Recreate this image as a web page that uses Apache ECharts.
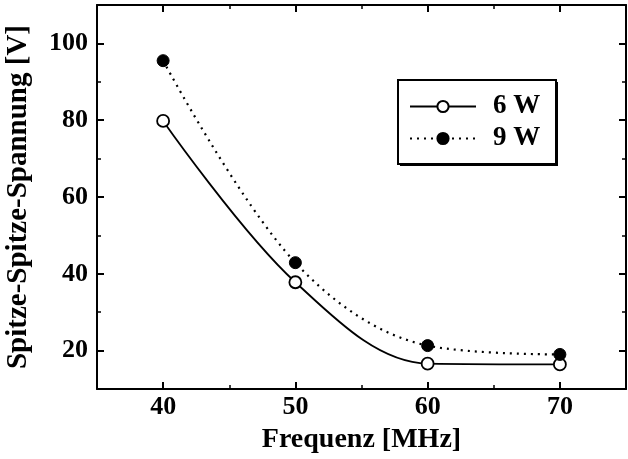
<!DOCTYPE html>
<html>
<head>
<meta charset="utf-8">
<script src="https://cdn.jsdelivr.net/npm/echarts@6/dist/echarts.min.js"></script>
<style>
html,body{margin:0;padding:0;background:#fff;}
#chart{width:628px;height:459px;}
</style>
</head>
<body>
<div id="chart"></div>
<script>
// Frequenz [MHz]
var frequenz = [40, 50, 60, 70];
// Spitze-Spitze-Spannung [V]
var spannung6W = [79.8, 37.8, 16.6, 16.4];
var spannung9W = [95.5, 42.9, 21.3, 19.0];
var seriesNames = ['6 W', '9 W'];
var xTicks = [40, 50, 60, 70];
var yTicks = [20, 40, 60, 80, 100];

function pairs(xs, ys) {
	var out = [];
	for (var i = 0; i < xs.length; i++) {
		out.push([xs[i], ys[i]]);
	}
	return out;
}

var fontFam = '"Liberation Serif", "DejaVu Serif", serif';
var labelStyle = { fontFamily: fontFam, fontWeight: 'bold', fontSize: 26, color: '#000' };

// major axis with custom ticks + labels
function majorAxis(min, max, pos, ticks, showLabel) {
	return {
		type: 'value', min: min, max: max, position: pos,
		axisLine: { show: true, lineStyle: { color: '#000', width: 2 } },
		axisTick: { show: true, inside: true, length: 7, customValues: ticks, lineStyle: { color: '#000', width: 2 } },
		axisLabel: Object.assign({ show: showLabel, customValues: ticks, margin: 9 }, labelStyle),
		splitLine: { show: false }
	};
}
// overlay axis, only short ticks
function minorAxis(min, max, pos, step) {
	return {
		type: 'value', min: min, max: max, interval: step, position: pos,
		axisLine: { show: false },
		axisTick: { show: true, inside: true, length: 4, lineStyle: { color: '#000', width: 1.5 } },
		axisLabel: { show: false },
		splitLine: { show: false }
	};
}

var xMain = majorAxis(35, 75, 'bottom', xTicks, true);
xMain.name = 'Frequenz [MHz]';
xMain.nameLocation = 'middle';
xMain.nameGap = 37;
xMain.nameTextStyle = Object.assign({}, labelStyle, { fontSize: 28 });
xMain.axisLabel.margin = 5;

var yMain = majorAxis(10, 110, 'left', yTicks, true);
yMain.name = 'Spitze-Spitze-Spannung [V]';
yMain.nameLocation = 'middle';
yMain.nameGap = 64;
yMain.nameTextStyle = Object.assign({}, labelStyle, { fontSize: 29 });

var myChart = echarts.init(document.getElementById('chart'));
var option = {
	backgroundColor: '#fff',
	animation: false,
	grid: { left: 97, right: 2, top: 5, bottom: 70, containLabel: false, outerBoundsMode: 'none' },
	// legend frame with offset shadow
	graphic: [
		{ type: 'rect', left: 400, top: 82, z: 1, shape: { width: 158, height: 84 }, style: { fill: '#000' } },
		{ type: 'rect', left: 397, top: 79, z: 2, shape: { width: 158, height: 84 }, style: { fill: '#fff', stroke: '#000', lineWidth: 2 } }
	],
	legend: {
		left: 409, top: 93, z: 5,
		orient: 'vertical',
		itemWidth: 66, itemHeight: 14, itemGap: 5,
		padding: 0,
		textStyle: Object.assign({ padding: [0, 0, 0, 12], lineHeight: 27 }, labelStyle, { fontSize: 27 }),
		data: seriesNames
	},
	xAxis: [
		xMain,
		majorAxis(35, 75, 'top', xTicks, false),
		minorAxis(35, 75, 'bottom', 5),
		minorAxis(35, 75, 'top', 5)
	],
	yAxis: [
		yMain,
		majorAxis(10, 110, 'right', yTicks, false),
		minorAxis(10, 110, 'left', 10),
		minorAxis(10, 110, 'right', 10)
	],
	series: [
		{
			name: seriesNames[0], type: 'line', smooth: 0.35,
			data: pairs(frequenz, spannung6W),
			symbol: 'circle', symbolSize: 12,
			itemStyle: { color: '#fff', borderColor: '#000', borderWidth: 1.8 },
			lineStyle: { color: '#000', width: 1.8, type: 'solid' }
		},
		{
			name: seriesNames[1], type: 'line', smooth: 0.35,
			data: pairs(frequenz, spannung9W),
			symbol: 'circle', symbolSize: 12,
			itemStyle: { color: '#000', borderColor: '#000', borderWidth: 1 },
			lineStyle: { color: '#000', width: 2.2, type: [2, 5] }
		}
	]
};
myChart.setOption(option);
</script>
</body>
</html>
